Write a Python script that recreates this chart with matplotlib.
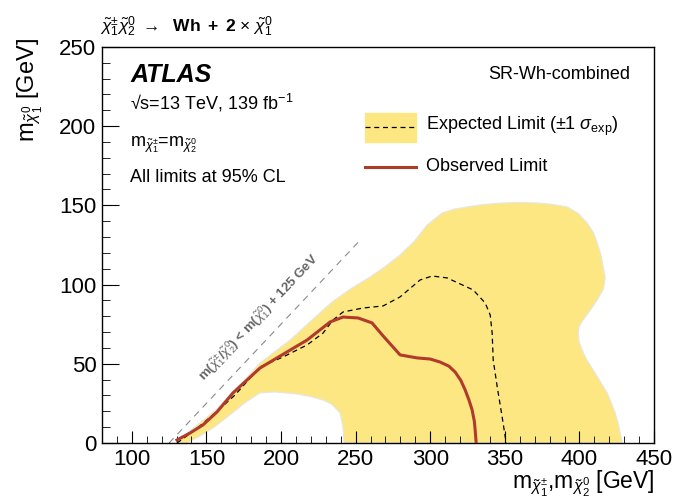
import matplotlib
matplotlib.use('Agg')
import matplotlib.pyplot as plt
from matplotlib.patches import Rectangle
from matplotlib.lines import Line2D
from matplotlib.ticker import MultipleLocator

plt.rcParams['font.family'] = ['Liberation Sans', 'DejaVu Sans']
plt.rcParams['mathtext.fontset'] = 'custom'
plt.rcParams['mathtext.rm'] = 'Liberation Sans'
plt.rcParams['mathtext.it'] = 'Liberation Sans:italic'
plt.rcParams['mathtext.bf'] = 'Liberation Sans:bold'

# +1 sigma (outer) contour, then -1 sigma (inner) contour back to start
outer_x = [130.3, 139.0, 157.0, 172.5, 185.9, 206.1, 220.0, 234.2, 247.0, 259.7, 270.0,
           279.8, 289.0, 297.9, 308.0, 316.0, 324.7, 336.0, 348.9, 360.0, 371.7,
           382.0, 391.8, 399.0, 405.2, 409.5, 411.9, 414.5, 415.9, 417.3, 416.0,
           411.9, 407.0, 402.5, 399.8, 399.2, 399.8, 401.8, 405.0, 409.2, 414.0,
           418.6, 421.5, 424.0, 426.0, 427.3, 428.7]
outer_y = [0.0, 7.6, 21.5, 36.6, 50.5, 65.0, 77.0, 89.0, 97.5, 104.8, 111.5,
           118.7, 127.0, 137.6, 145.2, 147.6, 149.0, 150.6, 151.5, 151.8, 151.5,
           150.6, 149.0, 145.0, 138.9, 132.5, 126.3, 118.5, 111.1, 104.2, 97.0,
           90.3, 83.5, 77.7, 73.5, 69.4, 63.8, 58.7, 52.3, 46.1, 38.8,
           31.6, 25.0, 18.9, 12.5, 6.3, 0.0]
inner_x = [242.3, 241.5, 239.6, 234.0, 228.2, 219.0, 210.0, 196.0, 185.9, 176.0,
           165.8, 158.0, 152.4, 145.0, 137.0]
inner_y = [0.0, 10.0, 18.9, 24.5, 27.1, 29.5, 31.0, 32.2, 31.6, 25.5,
           17.7, 12.0, 8.2, 4.0, 0.0]

exp_x = [130.3, 142.4, 155.8, 169.2, 185.9, 201.4, 217.5, 228.2, 234.9, 241.6, 255.0,
         268.4, 279.8, 293.2, 301.3, 311.3, 328.8, 336.8, 340.2, 341.5, 342.2,
         344.9, 348.2, 350.9]
exp_y = [0.0, 8.2, 18.9, 30.3, 48.0, 54.3, 61.9, 69.4, 77.7, 82.7, 85.2,
         86.5, 92.2, 102.9, 105.4, 104.2, 96.6, 88.4, 80.8, 69.4, 52.4,
         35.4, 16.4, 0.0]

obs_x = [130.3, 139.0, 147.7, 157.1, 167.8, 185.9, 197.3, 217.5, 232.9, 241.6, 251.7,
         261.0, 268.4, 279.8, 291.2, 300.0, 306.6, 312.5, 316.7, 320.5, 323.4,
         326.0, 328.1, 329.6, 330.1, 330.8]
obs_y = [1.9, 6.3, 11.4, 19.6, 31.6, 47.3, 53.7, 65.0, 76.4, 79.5, 78.9,
         75.8, 67.6, 55.6, 53.7, 53.0, 51.1, 48.5, 44.8, 39.5, 33.5,
         27.0, 20.8, 13.5, 8.2, 0.0]

kin_x = [125, 252]
kin_y = [0, 127]

band_color = '#fde782'
obs_color = '#b03b2b'

fig = plt.figure(figsize=(6.75, 5.04), dpi=100)
ax = fig.add_axes([0.151, 0.121, 0.818, 0.786])

ax.fill(outer_x + inner_x, outer_y + inner_y, color=band_color, lw=0.8, ec='#e6e6e6', zorder=1)
ax.plot(kin_x, kin_y, color='#8a8a8a', lw=0.8, ls=(0, (6, 5)), zorder=2)
ax.plot(exp_x, exp_y, color='black', lw=0.9, ls=(0, (4, 3)), zorder=3)
ax.plot(obs_x, obs_y, color=obs_color, lw=2.2, zorder=4)

ax.text(185.3, 79.5, r'm($\tilde{\chi}^{\pm}_{1}$/$\tilde{\chi}^{0}_{2}$) < m($\tilde{\chi}^{0}_{1}$) + 125 GeV',
        rotation=46.7, rotation_mode='anchor', ha='center', va='center',
        fontsize=9.5, color='#666666', fontweight='bold')

ax.set_xlim(80, 450)
ax.set_ylim(0, 250)
ax.xaxis.set_major_locator(MultipleLocator(50))
ax.xaxis.set_minor_locator(MultipleLocator(10))
ax.yaxis.set_major_locator(MultipleLocator(50))
ax.yaxis.set_minor_locator(MultipleLocator(10))
ax.tick_params(which='both', direction='in', labelsize=16, top=False, right=False)
ax.tick_params(axis='y', which='major', length=12, pad=4)
ax.tick_params(axis='y', which='minor', length=6)
ax.tick_params(axis='x', which='major', length=9, pad=4)
ax.tick_params(axis='x', which='minor', length=5)
for s in ax.spines.values():
    s.set_linewidth(1.0)

# texts
ax.text(0.051, 0.929, 'ATLAS', transform=ax.transAxes, fontsize=18,
        fontweight='bold', fontstyle='italic', va='center', ha='left')
ax.text(0.051, 0.859, '√s=13 TeV, 139 fb$^{-1}$', transform=ax.transAxes,
        fontsize=13, va='center', ha='left')
ax.text(0.051, 0.753, r'm$_{\tilde{\chi}^{\pm}_{1}}$=m$_{\tilde{\chi}^{0}_{2}}$', transform=ax.transAxes,
        fontsize=13, va='center', ha='left')
ax.text(0.051, 0.669, 'All limits at 95% CL', transform=ax.transAxes,
        fontsize=13, va='center', ha='left')
ax.text(0.957, 0.929, 'SR-Wh-combined', transform=ax.transAxes,
        fontsize=13, va='center', ha='right')

# legend
ax.add_patch(Rectangle((0.476, 0.760), 0.093, 0.073, transform=ax.transAxes,
                       color=band_color, zorder=5))
ax.add_line(Line2D([0.476, 0.569], [0.797, 0.797], transform=ax.transAxes,
                   color='black', lw=0.9, ls=(0, (4, 3)), zorder=6))
ax.add_line(Line2D([0.476, 0.569], [0.697, 0.697], transform=ax.transAxes,
                   color=obs_color, lw=2.2, zorder=6))
ax.text(0.587, 0.80, r'Expected Limit ($\pm$1 $\sigma_{\rm exp}$)', transform=ax.transAxes,
        fontsize=13, va='center', ha='left')
ax.text(0.587, 0.697, 'Observed Limit', transform=ax.transAxes,
        fontsize=13, va='center', ha='left')

# title and axis labels
fig.text(100 / 675, 1 - 27 / 504,
         r'$\tilde{\chi}^{\pm}_{1}\tilde{\chi}^{0}_{2}$ $\rightarrow$  $\mathbf{Wh\ +\ 2}$ $\times$ $\tilde{\chi}^{0}_{1}$',
         fontsize=12.5, va='center', ha='left')
fig.text(30 / 675, 1 - 38 / 504, r'm$_{\tilde{\chi}^{0}_{1}}$ [GeV]', rotation=90,
         fontsize=17, va='top', ha='center')
fig.text(655 / 675, 1 - 489 / 504, r'm$_{\tilde{\chi}^{\pm}_{1}}$,m$_{\tilde{\chi}^{0}_{2}}$ [GeV]',
         fontsize=16.5, va='baseline', ha='right')

plt.savefig('out.png', dpi=100)
